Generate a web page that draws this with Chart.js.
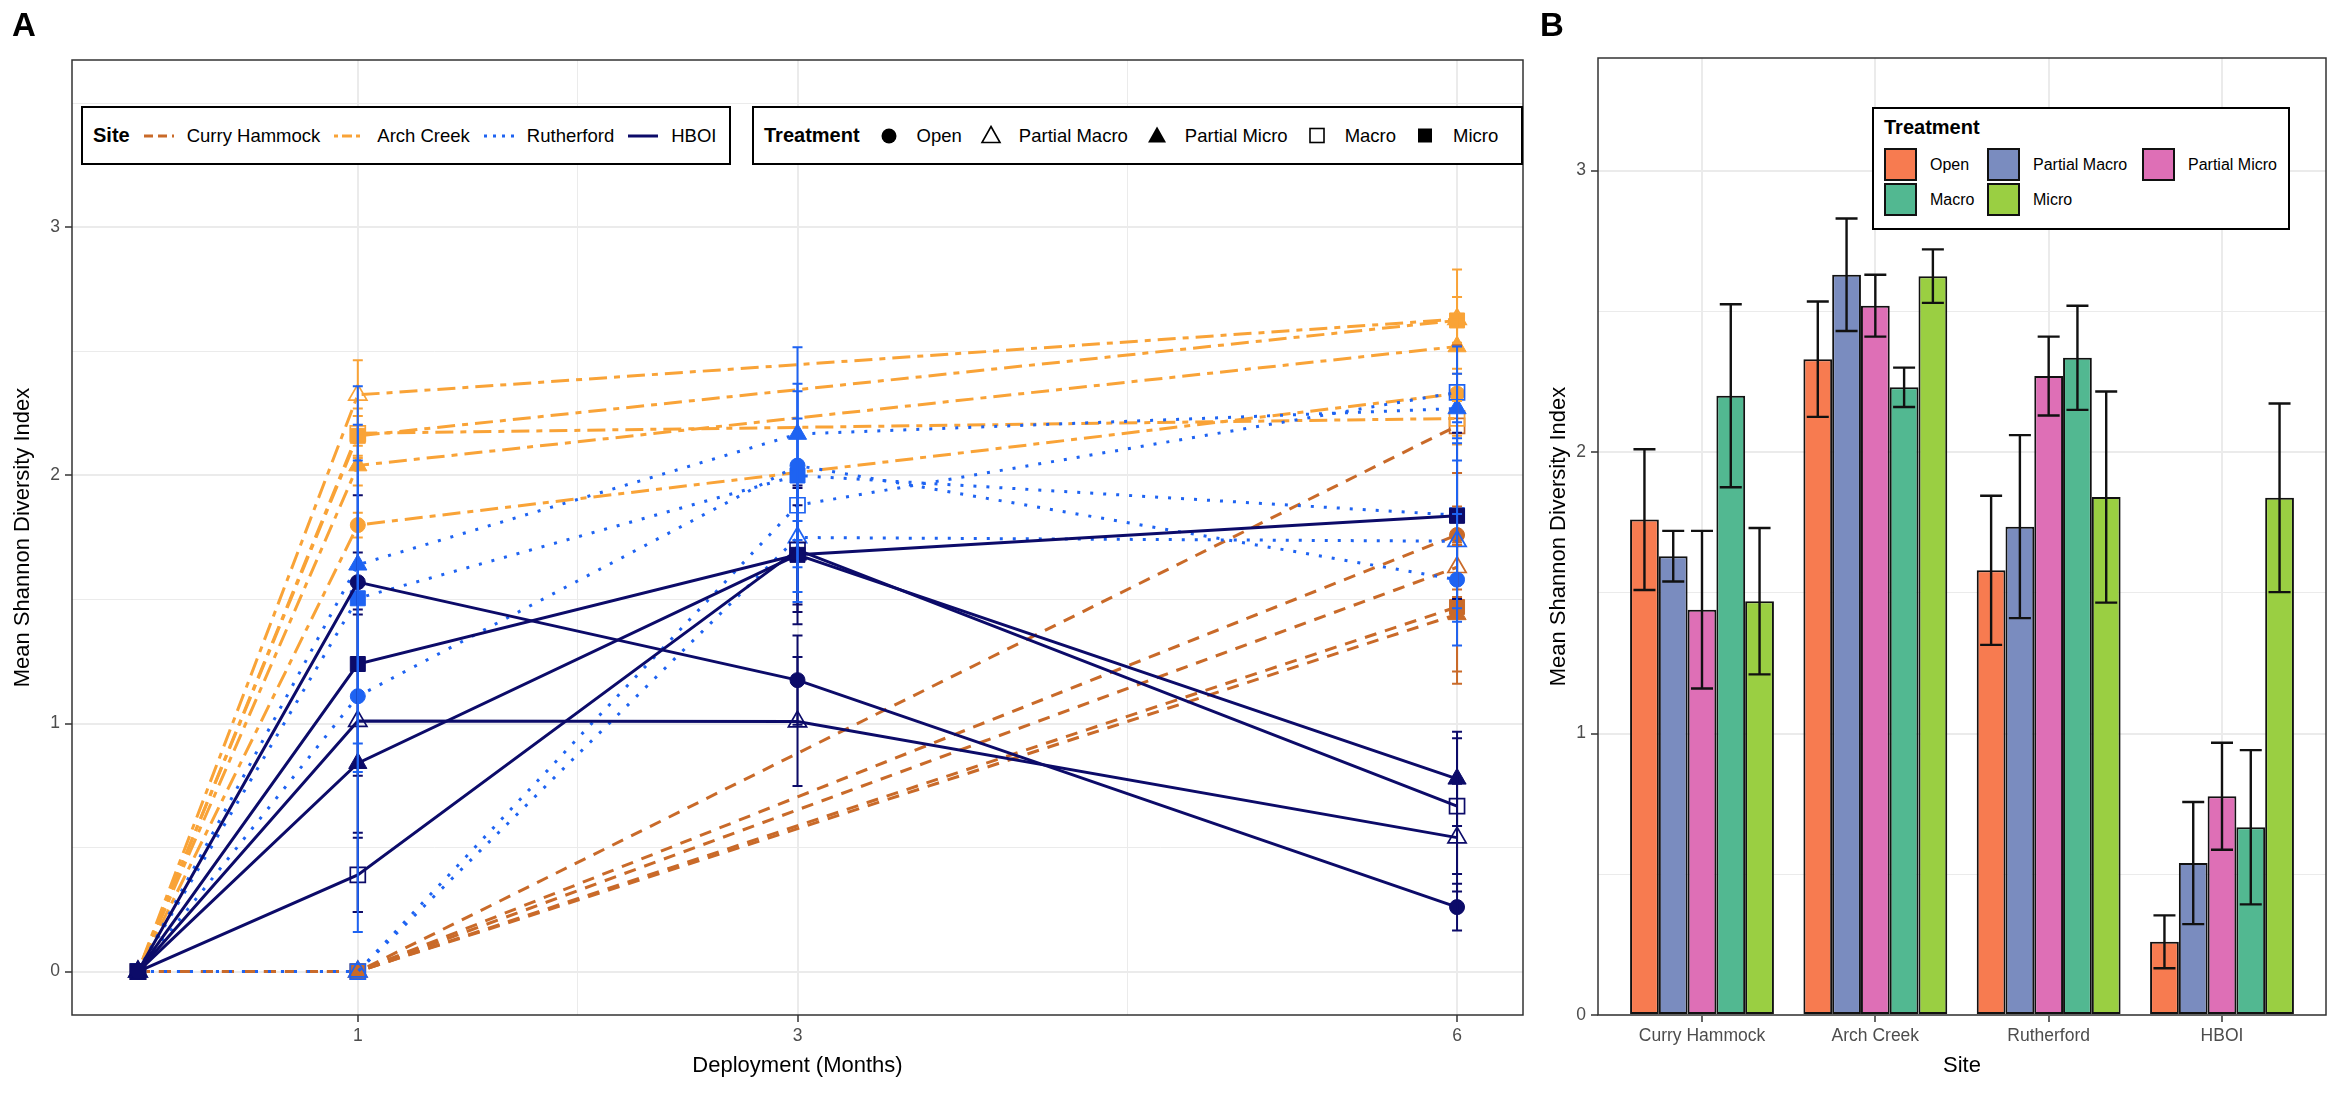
<!DOCTYPE html>
<html>
<head>
<meta charset="utf-8">
<script src="https://cdn.jsdelivr.net/npm/chart.js@4.4.1/dist/chart.umd.min.js"></script>
<style>
  body { margin: 0; width: 2334px; height: 1093px; background: #fff; position: relative; overflow: hidden;
         font-family: "Liberation Sans", Arial, sans-serif; color: #000; }
  canvas { position: absolute; top: 0; }
  #chartA { left: 0; }
  #chartB { left: 1536px; }
  .tag { position: absolute; top: 6px; font-size: 33px; font-weight: bold; }
  .box { position: absolute; border: 2px solid #000; background: #fff; box-sizing: border-box; }
  .row { display: flex; align-items: center; height: 100%; padding-left: 10px; font-size: 18.5px; white-space: nowrap; }
  .row .ttl { font-weight: bold; font-size: 20px; margin-right: 12px; }
  .row svg { flex: none; }
  .row .lbl { margin-left: 11px; margin-right: 12px; }
  .bttl { position: absolute; left: 10px; top: 7px; font-weight: bold; font-size: 20px; }
  .bkey { position: absolute; width: 33px; height: 33px; border: 2px solid #111; box-sizing: border-box; }
  .blbl { position: absolute; font-size: 16px; line-height: 33px; white-space: nowrap; }
</style>
</head>
<body>
<canvas id="chartA" width="1536" height="1093"></canvas>
<canvas id="chartB" width="798" height="1093"></canvas>
<div class="tag" style="left:12px">A</div>
<div class="tag" style="left:1540px">B</div>
<div class="box" id="siteLegend" style="left:81px; top:106px; width:650px; height:59px"></div>
<div class="box" id="treatLegendA" style="left:752px; top:106px; width:771px; height:59px"></div>
<div class="box" id="treatLegendB" style="left:1872px; top:107px; width:418px; height:123px"></div>
<script>
const sites = ['Curry Hammock', 'Arch Creek', 'Rutherford', 'HBOI'];
const treatments = ['Open', 'Partial Macro', 'Partial Micro', 'Macro', 'Micro'];
const monthTicks = [1, 3, 6];
const monthMinor = [2, 4.5];
const yTicks = [0, 1, 2, 3];

// rows follow treatments, columns follow the site's months
const curryMonths = [0, 1, 6];
const curryMean = [
    [0, 0, 1.76],
    [0, 0, 1.63],
    [0, 0, 1.44],
    [0, 0, 2.20],
    [0, 0, 1.47]
];
const curryErr = [
    [0, 0, 0.25],
    [0, 0, 0.09],
    [0, 0, 0.28],
    [0, 0, 0.325],
    [0, 0, 0.26]
];

const archMonths = [0, 1, 6];
const archMean = [
    [0, 1.80, 2.33],
    [0, 2.325, 2.63],
    [0, 2.04, 2.52],
    [0, 2.17, 2.23],
    [0, 2.16, 2.625]
];
const archErr = [
    [0, 0.05, 0.205],
    [0, 0.14, 0.20],
    [0, 0.08, 0.11],
    [0, 0.10, 0.07],
    [0, 0.08, 0.095]
];

const ruthMonths = [0, 1, 3, 6];
const ruthMean = [
    [0, 1.11, 2.04, 1.58],
    [0, 0, 1.75, 1.735],
    [0, 1.64, 2.167, 2.27],
    [0, 0, 1.88, 2.335],
    [0, 1.505, 2.00, 1.84]
];
const ruthErr = [
    [0, 0.95, 0.30, 0.265],
    [0, 0, 0.26, 0.325],
    [0, 0.72, 0.35, 0.14],
    [0, 0, 0.35, 0.185],
    [0, 0.70, 0.37, 0.375]
];

const hboiMonths = [0, 1, 3, 6];
const hboiMean = [
    [0, 1.57, 1.175, 0.26],
    [0, 1.01, 1.008, 0.54],
    [0, 0.84, 1.68, 0.777],
    [0, 0.39, 1.70, 0.667],
    [0, 1.24, 1.68, 1.8375]
];
const hboiErr = [
    [0, 0.35, 0.18, 0.094],
    [0, 0.45, 0.26, 0.217],
    [0, 0.60, 0.28, 0.19],
    [0, 0.15, 0.25, 0.274],
    [0, 0.45, 0.20, 0.335]
];

const siteMonths = [curryMonths, archMonths, ruthMonths, hboiMonths];
const siteMeans = [curryMean, archMean, ruthMean, hboiMean];
const siteErrs = [curryErr, archErr, ruthErr, hboiErr];

// styles
const siteColors = ['#C96A29', '#F9A337', '#1E63F2', '#0C0B69'];
const siteDash = [[12, 9], [6, 7, 18, 7], [3, 10], []];
const legendDash = ['9 5', '4 4 10 4', '3 6', ''];
const lineOrder = [4, 3, 2, 1];
const errOrder = [1, 0, 3, 2];
const treatColors = ['#F77B50', '#7A8CBF', '#DE6FB6', '#52B891', '#9ACF42'];
const pointShapes = ['circle', 'triangle', 'triangle', 'rect', 'rect'];
const pointSizes = [7.5, 10.5, 10.5, 10.6, 10.6];
const pointFilled = [true, false, true, false, true];

Chart.defaults.font.family = '"Liberation Sans", Arial, sans-serif';
const tickFont = { size: 17.5 };
const titleFont = { size: 22 };
const gridGrey = '#EBEBEB';

const errorBars = {
    id: 'errorBars',
    afterDatasetsDraw(chart, args, opts) {
        const ctx = chart.ctx;
        const y = chart.scales.y;
        const list = chart.data.datasets.map((d, i) => i)
            .sort((a, b) => (chart.data.datasets[a].errOrder || 0) - (chart.data.datasets[b].errOrder || 0));
        ctx.save();
        ctx.setLineDash([]);
        ctx.lineWidth = opts.width;
        list.forEach(i => {
            const ds = chart.data.datasets[i];
            const meta = chart.getDatasetMeta(i);
            ctx.strokeStyle = ds.errColor;
            ds.data.forEach((p, j) => {
                const e = ds.errors[j];
                if (!e) return;
                const x = meta.data[j].x;
                const y1 = y.getPixelForValue(p.y - e);
                const y2 = y.getPixelForValue(p.y + e);
                ctx.beginPath();
                ctx.moveTo(x, y1); ctx.lineTo(x, y2);
                ctx.moveTo(x - opts.cap, y1); ctx.lineTo(x + opts.cap, y1);
                ctx.moveTo(x - opts.cap, y2); ctx.lineTo(x + opts.cap, y2);
                ctx.stroke();
            });
        });
        ctx.restore();
    }
};

const panelBorder = {
    id: 'panelBorder',
    afterDraw(chart) {
        const { ctx, chartArea: a } = chart;
        ctx.save();
        ctx.strokeStyle = '#333333';
        ctx.lineWidth = 1.5;
        ctx.strokeRect(a.left, a.top, a.right - a.left, a.bottom - a.top);
        ctx.restore();
    }
};

function axisGrid(isMajor) {
    return {
        color: gridGrey,
        lineWidth: c => isMajor(c.tick.value) ? 2 : 1,
        tickColor: c => isMajor(c.tick.value) ? '#333333' : 'rgba(0,0,0,0)',
        tickLength: 7,
        tickWidth: 1.5
    };
}

// Panel A
const lineSets = [];
sites.forEach((site, s) => {
    treatments.forEach((t, k) => {
        lineSets.push({
            type: 'line',
            label: site + ' - ' + t,
            data: siteMonths[s].map((m, j) => ({ x: m, y: siteMeans[s][k][j] })),
            errors: siteErrs[s][k],
            errColor: siteColors[s],
            errOrder: errOrder[s],
            order: lineOrder[s],
            borderColor: siteColors[s],
            borderWidth: 3,
            borderDash: siteDash[s],
            tension: 0,
            fill: false,
            pointStyle: pointShapes[k],
            pointRadius: pointSizes[k],
            pointBackgroundColor: pointFilled[k] ? siteColors[s] : 'rgba(0,0,0,0)',
            pointBorderColor: siteColors[s],
            pointBorderWidth: pointFilled[k] ? 1 : 1.7
        });
    });
});

const yMajor = v => yTicks.includes(v);
const yTickList = [0, 0.5, 1, 1.5, 2, 2.5, 3, 3.5];

new Chart(document.getElementById('chartA'), {
    type: 'line',
    data: { datasets: lineSets },
    options: {
        responsive: false,
        animation: false,
        devicePixelRatio: 1,
        events: [],
        layout: { padding: { top: 60, right: 13, left: 0, bottom: 0 } },
        plugins: { legend: { display: false }, tooltip: { enabled: false }, errorBars: { width: 2, cap: 5 } },
        scales: {
            x: {
                type: 'linear', min: -0.3, max: 6.3,
                afterBuildTicks: sc => { sc.ticks = monthTicks.concat(monthMinor).sort((a, b) => a - b).map(v => ({ value: v })); },
                afterFit: sc => { sc.height = 78; },
                ticks: { autoSkip: false, maxRotation: 0, padding: 4, color: '#4D4D4D', font: tickFont,
                         callback: v => monthTicks.includes(v) ? String(v) : '' },
                grid: axisGrid(v => monthTicks.includes(v)),
                border: { display: false },
                title: { display: true, text: 'Deployment (Months)', color: '#000', font: titleFont, padding: { top: 0, bottom: 14 } }
            },
            y: {
                type: 'linear', min: -0.175, max: 3.675,
                afterBuildTicks: sc => { sc.ticks = yTickList.map(v => ({ value: v })); },
                afterFit: sc => { sc.width = 72; },
                ticks: { autoSkip: false, padding: 5, color: '#4D4D4D', font: tickFont,
                         callback: v => yMajor(v) ? String(v) : '' },
                grid: axisGrid(yMajor),
                border: { display: false },
                title: { display: true, text: 'Mean Shannon Diversity Index', color: '#000', font: titleFont, padding: { top: 10, bottom: 0 } }
            }
        }
    },
    plugins: [errorBars, panelBorder]
});

// Panel B: month 6 values, the last column of every site
const barSets = treatments.map((t, k) => ({
    label: t,
    data: sites.map((site, s) => ({ x: s + 1, y: siteMeans[s][k][siteMonths[s].length - 1] })),
    errors: sites.map((site, s) => siteErrs[s][k][siteMonths[s].length - 1]),
    errColor: '#111111',
    backgroundColor: treatColors[k],
    borderColor: '#111111',
    borderWidth: 2,
    borderSkipped: false,
    categoryPercentage: 0.83,
    barPercentage: 1
}));

const bTicks = [0, 0.5, 1, 1.5, 2, 2.5, 3];

new Chart(document.getElementById('chartB'), {
    type: 'bar',
    data: { datasets: barSets },
    options: {
        responsive: false,
        animation: false,
        devicePixelRatio: 1,
        events: [],
        layout: { padding: { top: 58, right: 8, left: 0, bottom: 0 } },
        plugins: { legend: { display: false }, tooltip: { enabled: false }, errorBars: { width: 2.4, cap: 11 } },
        scales: {
            x: {
                type: 'linear', min: 0.4, max: 4.6, offset: false,
                afterBuildTicks: sc => { sc.ticks = sites.map((s, i) => ({ value: i + 1 })); },
                afterFit: sc => { sc.height = 78; },
                ticks: { autoSkip: false, maxRotation: 0, padding: 4, color: '#4D4D4D', font: tickFont,
                         callback: v => sites[v - 1] || '' },
                grid: Object.assign(axisGrid(() => true), { offset: false }),
                border: { display: false },
                title: { display: true, text: 'Site', color: '#000', font: titleFont, padding: { top: 0, bottom: 14 } }
            },
            y: {
                type: 'linear', min: 0, max: 3.4,
                afterBuildTicks: sc => { sc.ticks = bTicks.map(v => ({ value: v })); },
                afterFit: sc => { sc.width = 62; },
                ticks: { autoSkip: false, padding: 5, color: '#4D4D4D', font: tickFont,
                         callback: v => yMajor(v) ? String(v) : '' },
                grid: axisGrid(yMajor),
                border: { display: false },
                title: { display: true, text: 'Mean Shannon Diversity Index', color: '#000', font: titleFont, padding: { top: 10, bottom: 0 } }
            }
        }
    },
    plugins: [errorBars, panelBorder]
});

// legends
const svgNS = 'http://www.w3.org/2000/svg';
function makeSvg(w, h, inner) {
    const el = document.createElementNS(svgNS, 'svg');
    el.setAttribute('width', w); el.setAttribute('height', h);
    el.innerHTML = inner;
    return el;
}
function addText(parent, cls, text) {
    const sp = document.createElement('span');
    sp.className = cls; sp.textContent = text;
    parent.appendChild(sp);
}

const siteRow = document.createElement('div');
siteRow.className = 'row';
addText(siteRow, 'ttl', 'Site');
sites.forEach((site, s) => {
    siteRow.appendChild(makeSvg(34, 10,
        `<line x1="2" y1="5" x2="32" y2="5" stroke="${siteColors[s]}" stroke-width="3" stroke-dasharray="${legendDash[s]}"/>`));
    addText(siteRow, 'lbl', site);
});
document.getElementById('siteLegend').appendChild(siteRow);

const shapeSvg = [
    '<circle cx="17" cy="11" r="7.5" fill="#000"/>',
    '<polygon points="17,1.5 26,17.5 8,17.5" fill="none" stroke="#000" stroke-width="1.6"/>',
    '<polygon points="17,1.5 26,17.5 8,17.5" fill="#000"/>',
    '<rect x="10" y="3.5" width="14" height="14" fill="none" stroke="#000" stroke-width="1.6"/>',
    '<rect x="10" y="3.5" width="14" height="14" fill="#000"/>'
];
const treatRow = document.createElement('div');
treatRow.className = 'row';
addText(treatRow, 'ttl', 'Treatment');
treatments.forEach((t, k) => {
    treatRow.appendChild(makeSvg(34, 21, shapeSvg[k]));
    addText(treatRow, 'lbl', t);
});
document.getElementById('treatLegendA').appendChild(treatRow);

const bBox = document.getElementById('treatLegendB');
addText(bBox, 'bttl', 'Treatment');
const keyCols = [10, 113, 268];
const textCols = [56, 159, 314];
treatments.forEach((t, k) => {
    const r = Math.floor(k / 3), c = k % 3;
    const key = document.createElement('div');
    key.className = 'bkey';
    key.style.left = keyCols[c] + 'px';
    key.style.top = (39 + r * 35) + 'px';
    key.style.background = treatColors[k];
    bBox.appendChild(key);
    const lb = document.createElement('div');
    lb.className = 'blbl';
    lb.style.left = textCols[c] + 'px';
    lb.style.top = (39 + r * 35) + 'px';
    lb.textContent = t;
    bBox.appendChild(lb);
});
</script>
</body>
</html>
